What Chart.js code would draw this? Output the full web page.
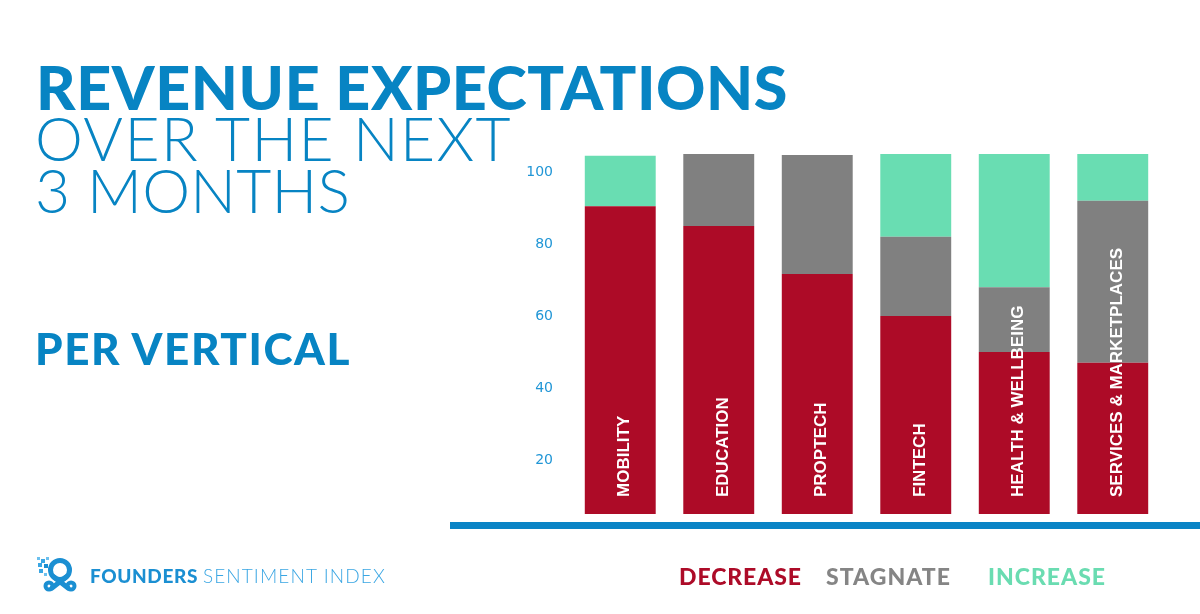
<!DOCTYPE html>
<html>
<head>
<meta charset="utf-8">
<script src="https://cdn.jsdelivr.net/npm/chart.js@4.4.1/dist/chart.umd.min.js"></script>
<style>
  body { margin: 0; background: #fff; }
  #page { position: relative; width: 1200px; height: 614px; overflow: hidden; background: #fff; font-family: Lato, sans-serif; }
  #chart { position: absolute; left: 0; top: 0; }
  .txt { position: absolute; white-space: nowrap; line-height: 1; }
  .title-bold { font-weight: 900; font-size: 61px; color: #0784c3; }
  .title-light { font-weight: 300; font-size: 60.5px; color: #0784c3; }
  .sub { font-weight: 900; font-size: 44px; color: #0784c3; }
  .brand { font-size: 19px; }
  .legend { font-weight: 900; font-size: 23px; }
  #baseline { position: absolute; left: 450px; top: 522px; width: 750px; height: 7px; background: #0a84c6; }
  #logo { position: absolute; left: 35px; top: 555px; }
</style>
</head>
<body>
<div id="page">
  <canvas id="chart" width="1200" height="614"></canvas>
  <div id="baseline"></div>

  <div class="txt title-bold" style="left:36px;top:56px" data-fit="752">REVENUE EXPECTATIONS</div>
  <div class="txt title-light" style="left:35px;top:108px" data-fit="477">OVER THE NEXT</div>
  <div class="txt title-light" style="left:35px;top:159.5px" data-fit="315">3 MONTHS</div>
  <div class="txt sub" style="left:35px;top:326px" data-fit="316">PER VERTICAL</div>

  <svg id="logo" width="44" height="40" viewBox="0 0 44 40">
    <rect x="2" y="2" width="3" height="3" fill="#6cc0ee"/>
    <rect x="6" y="4" width="4" height="4" fill="#3aa6e3"/>
    <rect x="11" y="2" width="3" height="3" fill="#6cc0ee"/>
    <rect x="3" y="8" width="4" height="4" fill="#3aa6e3"/>
    <rect x="9" y="9" width="4" height="4" fill="#1b8fd2"/>
    <rect x="4" y="14" width="4" height="4" fill="#3aa6e3"/>
    <rect x="9" y="18" width="3" height="3" fill="#6cc0ee"/>
    <circle cx="25" cy="15" r="9.5" fill="none" stroke="#1b8fd2" stroke-width="5"/>
    <path d="M19 22 L 33 33 M31 22 L 17 33" stroke="#1b8fd2" stroke-width="5" stroke-linecap="round"/>
    <circle cx="14" cy="31" r="3.5" fill="none" stroke="#1b8fd2" stroke-width="4"/>
    <circle cx="36" cy="31" r="3.5" fill="none" stroke="#1b8fd2" stroke-width="4"/>
  </svg>
  <div class="txt brand" style="left:90px;top:566px">
    <span style="font-weight:900;color:#1b8fd2" data-fit="108">FOUNDERS</span>
    <span style="font-weight:300;color:#3aa6e3" data-fit="183">SENTIMENT INDEX</span>
  </div>

  <div class="txt legend" style="left:679px;top:565px;color:#ad0b28" data-fit="123">DECREASE</div>
  <div class="txt legend" style="left:826px;top:565px;color:#858585" data-fit="125">STAGNATE</div>
  <div class="txt legend" style="left:988px;top:565px;color:#6adcb1" data-fit="118">INCREASE</div>
</div>

<script>
// --- Data ---
const categories = ["MOBILITY", "EDUCATION", "PROPTECH", "FINTECH", "HEALTH & WELLBEING", "SERVICES & MARKETPLACES"];
const decrease = [85.5, 80, 66.7, 55, 45, 42];
const stagnate = [0, 20, 33, 22, 18, 45];
const increase = [14, 0, 0, 23, 37, 13];
const yTickValues = [20, 40, 60, 80, 100];
const tickAxisShift = 5; // printed axis sits 5 points above the bars' own zero

const colors = { decrease: "#ad0b27", stagnate: "#808080", increase: "#69ddb2" };

// white category names written up the bars
const barLabelPlugin = {
  id: "barLabels",
  afterDatasetsDraw(chart) {
    const { ctx, chartArea } = chart;
    const meta = chart.getDatasetMeta(0);
    ctx.save();
    ctx.fillStyle = "#ffffff";
    ctx.font = 'bold 17px "Liberation Sans", Arial, sans-serif';
    ctx.textAlign = "left";
    ctx.textBaseline = "alphabetic";
    meta.data.forEach((bar, i) => {
      ctx.save();
      ctx.translate(bar.x + 9, chartArea.bottom - 17);
      ctx.rotate(-Math.PI / 2);
      ctx.fillText(categories[i], 0, 0);
      ctx.restore();
    });
    ctx.restore();
  }
};

const barOpts = { barPercentage: 0.72, categoryPercentage: 1, borderWidth: 0 };

new Chart(document.getElementById("chart").getContext("2d"), {
  type: "bar",
  data: {
    labels: categories,
    datasets: [
      { label: "Decrease", data: decrease, backgroundColor: colors.decrease, ...barOpts },
      { label: "Stagnate", data: stagnate, backgroundColor: colors.stagnate, ...barOpts },
      { label: "Increase", data: increase, backgroundColor: colors.increase, ...barOpts }
    ]
  },
  options: {
    responsive: false,
    animation: false,
    layout: { padding: { left: 511, right: 38, top: 154, bottom: 100 } },
    plugins: {
      legend: { display: false },
      tooltip: { enabled: false }
    },
    scales: {
      x: { stacked: true, display: false },
      y: { stacked: true, display: false, min: 0, max: 100 },
      yTicks: {
        type: "linear",
        axis: "y",
        position: "left",
        min: tickAxisShift,
        max: 100 + tickAxisShift,
        grid: { display: false },
        border: { display: false },
        ticks: { padding: 10, color: "#2196d6", font: { family: "DejaVu Sans", size: 14 } },
        afterBuildTicks: scale => { scale.ticks = yTickValues.map(v => ({ value: v })); },
        afterFit: scale => { scale.width = 60; }
      }
    }
  },
  plugins: [barLabelPlugin]
});

// stretch the heading texts to the widths in the original artwork
document.querySelectorAll("[data-fit]").forEach(el => {
  el.style.display = "inline-block";
  const target = parseFloat(el.dataset.fit);
  const w = el.getBoundingClientRect().width;
  const n = el.textContent.length;
  el.style.letterSpacing = ((target - w) / n) + "px";
});
</script>
</body>
</html>
